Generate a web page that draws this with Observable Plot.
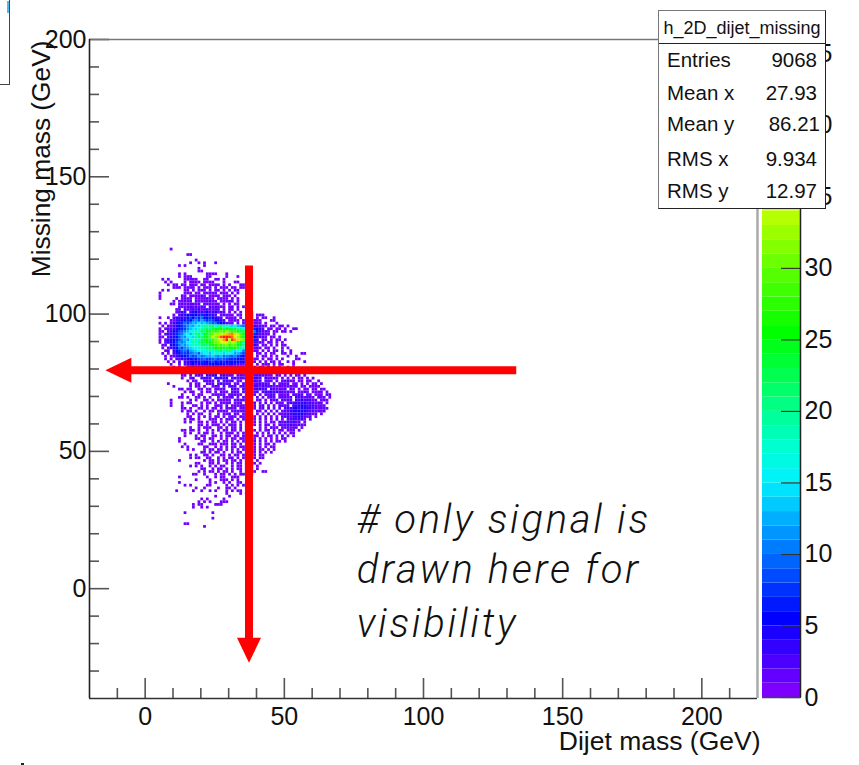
<!DOCTYPE html>
<html><head><meta charset="utf-8">
<script src="https://cdn.jsdelivr.net/npm/d3@7"></script>
<script src="https://cdn.jsdelivr.net/npm/@observablehq/plot@0.6"></script>
<style>
html,body{margin:0;padding:0;background:#fff;overflow:hidden}
#stage{position:relative;width:859px;height:765px;font-family:"Liberation Sans",Arial,sans-serif}
#stage svg{position:absolute;left:0;top:0;background:transparent}
#stage svg g[font-style="italic"]{letter-spacing:2.7px}
#stats{position:absolute;left:658px;top:10px;width:166px;height:197px;background:#fff;border:1.5px solid #222;border-top-color:#777;border-left-color:#777;color:#111;font-size:20.5px;box-sizing:content-box}
#stats .t{position:absolute;left:0;right:0;top:5px;height:27px;line-height:24px;text-align:center;font-size:18px;border-bottom:1.5px solid #222}
#stats .r{position:absolute;left:8px;right:7px;height:24px;line-height:24px;display:flex;justify-content:space-between}
#corner{position:absolute;left:-2px;top:-2px;width:10px;height:85px;border:1px solid #444;background:#fff}
#corner i{position:absolute;right:0;top:2px;width:2px;height:12px;background:#4fb8f0}
#speck{position:absolute;left:21px;top:763px;width:3px;height:2px;background:#222}
</style></head><body><div id="stage"></div>
<script>
const xDomain = [-20, 220];
const yDomain = [-40, 200];
const zDomain = [0, 46];
const xMajor = [0, 50, 100, 150, 200];
const xMinor = [-10, 10, 20, 30, 40, 60, 70, 80, 90, 110, 120, 130, 140, 160, 170, 180, 190, 210];
const yMajor = [0, 50, 100, 150, 200];
const yMinor = [-30, -20, -10, 10, 20, 30, 40, 60, 70, 80, 90, 110, 120, 130, 140, 160, 170, 180, 190];
const zTicks = [0, 5, 10, 15, 20, 25, 30, 35, 40, 45];
const zLevels = d3.range(0, 46);
const paletteStops = [0, 5.5, 10, 15, 17.5, 20, 25.5, 30, 35, 40, 46];
const paletteColors = ["#8a00ff", "#0000ff", "#0070ff", "#00f0ff", "#00ffd0", "#00ff90", "#00ff00", "#60ff00", "#d8ff00", "#ff9a00", "#ff0000"];

// Bin contents: 1 GeV bins, one string per row.
const firstRowY = 123, firstBinX = 4;
const countSymbols = "0123456789abcdefghijklmnopqrstuvwxyzABCDEFGHIJ";
const countRows = [
".....1","","...........11","","..............1",
"............1..1.1...1","........1.1......1","...............1","...............11",
"........1.1.......1111...1","........1.111.....11.....1...1","..1.1.....11111..11..11.1",
"...1.1....1.1111.1111...1...11","....1.11.11.111.11.1111.1.1...11","......111.1111.1.111.1.111.11.11",
"..1.1.....11.1.111.1.11.1.1.11",".1........111.11.11111.111.1.1",".1.......11.111121.1111.111.1",
".1.....1.1211.1112211.1111.1.1","......1.11212.21111211.11121.1",".....11.12112212.212111.1.1.11",
"........2112312122.212111.11.1.1",".......12.3123241322122.1.11.1",".......1233.2453325234122.1.1.1..11",
"......1.24354653746332.12111.11..11.111",".1..1.2334368597a6675432.1111.1..11.1.11..1",
".....11345675ab8ca7986543.1111.11.1111...11",".1.1.13467a8bdcfdecb9a754211.1.111.111.1...1",
"..1.2134579bdcgeikjlmhkljigehdca97632211.11.11.1",".1.12234678bdfehikmjnpoqlpomnjkgeb97532.11.11.1..11",
".11.235689bdgfjhmkpnsrtuswtrspmnjgea63221.11.11.1",".1.233479aegdikmhqnsuxwyBCEFBytqkgc742211.1",
".11.24469cbfhejmkoqtzvDHJJIGAwtqjfa63221.11.1",".1.234679bdcfijgmnqlsvxAEJyIEBwukea73.21.1.11.1",
".1.23468bacfgjhlnmqpsuvzyAvxwrojd952211.11.1.1","..12.457adbegijhlmkoqrusuvrutpokhc842.11.1.1.11",
"..1.2346a8bcefhgjikmlprqnrpoqnjie73121.11.1..1.1","...12.3679a8cdefhgikhjkmjkliegfb63211.1.1.11.1..1",
"..1.1.346887abc9efgdghigeigfcdb8521.11.1.11..11.1...11","...1.1234657a89cabdcecbdaba9b875311.1.11.1.1...1..1",
"...1.1.2243567689a889a8a9877756421.11.1.11.1.1....11","....1.1.2.33455476578676756666454311.1.1.11.1..1.1...1",
".....1..1.2335243546565543443211.11.1.111.1.11...1","......1.1..22342324353224332332211.1.11.2.1.1..1.1",
"......1..112122323332423322222111.1.1.21.1.11.1.1","..........1.11.22.3324343223.22221321221.1211.11.1.1",
".........11.1.232.4345.34221.2222312332211.21.1.1.11.1",".........1..12..2322.43324.23122432332.31121.1.1.1.11.1.1",
"...........1.11..2221.2.2212.11.342312.121.1.11211.11.11..1","....1.......1.11..212.13222.12.2334123221.2.1212.11.1.1.11.1",
"......1.....1.11.1..121.2.222.1223.3313222112121212.11.1111","........11.11..11.11.1212..221.321223322.321112.21.1.11.11.11",
"..........1.11..1.11.1.211.222.21.212.232323221212.1121.1111.1",".........1...1.11...11112.12211.3212.1.2122.1212.2132.21.111.21",
"........11.1..11.1.1..1.2112.1.21.1.2.1.122.12212.3231221.211.1",".....1......1.1..11.1.11121.2212.21.12.1.212.2122.32423212.121",
".....1...1.11...1.11.1.2112.112.2.12.1.2.1.211.2323334232121.1",".....1...1...11.1.1..111.2.1212112.2.12.1.1.2212.334543332121",
".........11.1..11.1.11.1.2112.1212.1.12.2.1.2.2324534443221211",".........1.11.1..1.11.1121.112121.1.21.2.1.2.1223445443221212",
"...........1.1.11..1..1.112.21.12.2.1.1.2.1.11223434532212.1","...........11..1.1.1.11.1.121.2122.1.1.2.1.1.22313343212.1",
"..........1.11.1...111.1.211.1.2.1.1.2.1.1.2.1.2232331.1","..........1.1..11.1.11.1.1.21.1.12.1.2.1.11.21232312.1",
"...............11.1.111.1.111.1.1..1.1.21.1.2122321211","............1..1.111..11.1.11.2.11...1.1.211.212121.1",
".........11.11.1..1.1.1.11.21.1.11.1.1.12.1.11.111.1","..........1.1..1.11.1..1.111.1.1.11.1.1.1.2.1.1.11",
"..........1...1.11..11.1.11.11.2.1.11.1.11.1.2.1.1","........1.....11.1.11..1.1.11.11.1.1.1.1.1.1.11",
"........1.......11..1.1.11.1.1.111.2.1.1.1.11.1","..........1....11..111.111.11.1.11.1.1.11.1",
".........1.1.....11..1.1.1.11.11.1.1.1.1.11","...........1.1...1.11.11.1.1.1.1.1.1.11.1.1",
"................11.1.11.1..1.11.1.11.1.1.1","............1.1..11.1..11.1.11.1.1.1.11",
"............1.11..11..1.1.11.1.1.1.1.11","........1........1.11.1.11.11.1.1.1.1",
"..............11...11.1..1.1.11.1.11.1","............1.1.1..1.1.11..1.11.1.1.1",
"................11..1.11.1.1.11.1.1.1","...............1.1.11.1.11.1..1.11.1..11",
".............11..1...1.11.1.1.11.11","........1.........1..1.11..111",
"..............1....1...111.1.1","........1..........1.1..1.1..11",
"..........1.1.....11.....1.1.1.11","..............1..1....1..11.1",
".......1.....1..1..1.1...1.1.11",".........................1....1.1",
".....................1....1","................1.1.....1",
"...............1.1.1...111",".............1.11....111",".............1..1.1","",
"..........1.........1","","....................1","","..........11",".................1"
];

// Cut lines and annotation.
const cutX = 37.3, cutY = 79.5;
const cutXTop = 117.5, cutXEnd = -22, cutXTip = -27;
const cutYRight = 133.5, cutYEnd = -5, cutYTip = -14.3;
const noteLines = ["# only signal is", "drawn here for", "visibility"];
const noteX = 76;
const noteY = [24.8, 6.6, -12.8];
const statsTitle = "h_2D_dijet_missing";
const statsNames = ["Entries", "Mean x", "Mean y", "RMS x", "RMS y"];
const statsValues = ["9068", "27.93", "86.21", "9.934", "12.97"];

const cells = [];
countRows.forEach((row, r) => {
  [...row].forEach((ch, i) => {
    const c = countSymbols.indexOf(ch);
    if (c > 0) cells.push({x: firstBinX + i, y: firstRowY - r, c});
  });
});

const colorOpt = {type: "linear", domain: paletteStops, range: paletteColors, interpolate: "rgb", clamp: true};
const tickStroke = "#555";
const fontFamily = '"Liberation Sans", Arial, sans-serif';
const downHead = {draw(c){c.moveTo(0,0);c.lineTo(-12,-25);c.lineTo(12,-25);c.closePath();}};
const leftHead = {draw(c){c.moveTo(0,0);c.lineTo(26,-12.5);c.lineTo(26,12.5);c.closePath();}};

const main = Plot.plot({
  width: 859, height: 765,
  marginLeft: 89, marginRight: 102, marginTop: 39, marginBottom: 67,
  x: {domain: xDomain}, y: {domain: yDomain},
  color: colorOpt,
  style: {fontFamily, background: "transparent", color: "#111"},
  marks: [
    Plot.axisX({ticks: xMajor, tickSize: 0, tickPadding: 9, fontSize: 25, label: null, tickFormat: d => String(d), stroke: "none"}),
    Plot.axisX({ticks: xMajor, tickSize: -20, text: null, label: null, stroke: tickStroke, strokeWidth: 1.6}),
    Plot.axisX({ticks: xMinor, tickSize: -10, text: null, label: null, stroke: tickStroke, strokeWidth: 1.6}),
    Plot.axisY({ticks: yMajor, tickSize: 0, tickPadding: 3, fontSize: 25, label: null, tickFormat: d => String(d), stroke: "none"}),
    Plot.axisY({ticks: yMajor, tickSize: -20, text: null, label: null, stroke: tickStroke, strokeWidth: 1.6}),
    Plot.axisY({ticks: yMinor, tickSize: -10, text: null, label: null, stroke: tickStroke, strokeWidth: 1.6}),
    Plot.ruleY([yDomain[1]], {stroke: "#777", strokeWidth: 1.6}),
    Plot.ruleY([yDomain[0]], {stroke: "#333", strokeWidth: 1.6}),
    Plot.ruleX([xDomain[0]], {stroke: "#222", strokeWidth: 1.6}),
    Plot.ruleX([xDomain[1]], {stroke: "#aaa", strokeWidth: 2.5}),
    Plot.rect(cells, {x1: d => d.x, x2: d => d.x + 1, y1: d => d.y, y2: d => d.y + 1, fill: "c"}),
    Plot.ruleX([cutX], {y1: cutXTop, y2: cutXEnd, stroke: "#ff0000", strokeWidth: 8}),
    Plot.ruleY([cutY], {x1: cutYRight, x2: cutYEnd, stroke: "#ff0000", strokeWidth: 8}),
    Plot.dot([{x: cutX, y: cutXTip}], {x: "x", y: "y", symbol: downHead, fill: "#ff0000", stroke: "none"}),
    Plot.dot([{x: cutYTip, y: cutY}], {x: "x", y: "y", symbol: leftHead, fill: "#ff0000", stroke: "none"}),
    Plot.text(noteLines, {x: () => noteX, y: (d, i) => noteY[i], text: d => d, textAnchor: "start", fontSize: 40, fontStyle: "italic", fontWeight: 300, fontFamily: "Roboto", fill: "#111"}),
    Plot.text(["Dijet mass (GeV)"], {frameAnchor: "bottom-right", dx: 3, dy: 43, fontSize: 26.5, lineAnchor: "middle", fill: "#111"}),
    Plot.text(["Missing mass (GeV)"], {frameAnchor: "top-left", dx: -48, dy: 1, rotate: -90, textAnchor: "end", fontSize: 26.3, lineAnchor: "middle", fill: "#111"})
  ]
});

const bar = Plot.plot({
  width: 859, height: 765,
  marginLeft: 762, marginRight: 59, marginTop: 39, marginBottom: 68,
  x: {domain: [0, 1], axis: null}, y: {domain: zDomain},
  color: colorOpt,
  style: {fontFamily, background: "transparent", color: "#111"},
  marks: [
    Plot.rect(zLevels, {x1: () => 0, x2: () => 1, y1: d => d, y2: d => d + 1, fill: d => d + 0.5}),
    Plot.axisY({anchor: "right", ticks: zTicks, tickSize: 0, tickPadding: 4, fontSize: 25, label: null, tickFormat: d => String(d), stroke: "none"}),
    Plot.axisY({anchor: "right", ticks: zTicks, tickSize: -20, text: null, label: null, stroke: "#333", strokeWidth: 1.2}),
    Plot.ruleX([1], {stroke: "#222", strokeWidth: 1.5}),
    Plot.ruleY([0], {stroke: "#444", strokeWidth: 1.5})
  ]
});

const stage = document.getElementById("stage");
stage.append(main, bar);
const corner = document.createElement("div"); corner.id = "corner"; corner.append(document.createElement("i")); stage.append(corner);
const speck = document.createElement("div"); speck.id = "speck"; stage.append(speck);
const stats = document.createElement("div"); stats.id = "stats";
const head = document.createElement("div"); head.className = "t"; head.textContent = statsTitle; stats.append(head);
const rowTops = [37, 70, 101, 136, 168];
const rowShift = [0, 0, -3, 0, 0];
statsNames.forEach((n, i) => {
  const r = document.createElement("div"); r.className = "r"; r.style.top = rowTops[i] + "px";
  const a = document.createElement("span"); a.textContent = n;
  const b = document.createElement("span"); b.textContent = statsValues[i];
  b.style.marginRight = (rowShift[i] + 1) + "px";
  r.append(a, b); stats.append(r);
});
stage.append(stats);
</script></body></html>
